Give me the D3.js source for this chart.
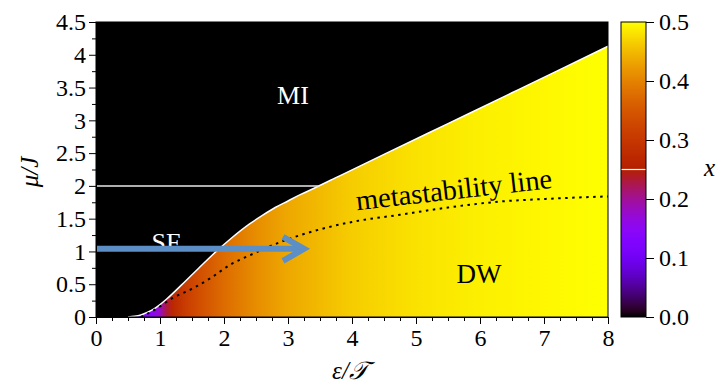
<!DOCTYPE html>
<html>
<head>
<meta charset="utf-8">
<script src="https://cdn.jsdelivr.net/npm/d3@7"></script>
<style>
  body { margin: 0; background: #fff; }
</style>
</head>
<body>
<div id="chart"></div>
<script>
// phase boundary between MI and DW (eps/T, mu/J)
const boundaryEps = [0.5, 0.6, 0.7, 0.8, 0.9, 1.0, 1.1, 1.2, 1.4, 1.6, 1.9, 2.1, 2.4, 2.6, 2.8, 3.0, 3.2, 3.4, 3.8, 4.5, 5.5, 6.5, 7.2, 8.0];
const boundaryMu  = [0.0, 0.01, 0.03, 0.07, 0.12, 0.19, 0.27, 0.36, 0.55, 0.74, 1.02, 1.19, 1.42, 1.55, 1.67, 1.77, 1.87, 1.96, 2.15, 2.48, 2.95, 3.42, 3.75, 4.13];

// metastability line
const metaEps = [0.7, 0.9, 1.2, 1.5, 1.8, 2.1, 2.4, 2.9, 3.4, 4.0, 4.75, 5.5, 6.3, 7.0, 8.0];
const metaMu  = [0.0, 0.1, 0.29, 0.43, 0.6, 0.8, 0.94, 1.15, 1.31, 1.45, 1.56, 1.67, 1.76, 1.80, 1.84];

// order parameter x along eps in the DW region
const gradEps = [0.5, 0.7, 0.9, 1.0, 1.1, 1.2, 1.4, 1.6, 2.0, 2.5, 3.0, 3.5, 4.0, 5.0, 6.0, 7.0, 8.0];
const gradX   = [0.05, 0.12, 0.15, 0.18, 0.23, 0.27, 0.31, 0.335, 0.375, 0.41, 0.435, 0.45, 0.465, 0.48, 0.49, 0.495, 0.5];

const xTicks = [0, 1, 2, 3, 4, 5, 6, 7, 8];
const yTicks = [0, 0.5, 1, 1.5, 2, 2.5, 3, 3.5, 4, 4.5];
const cTicks = [0, 0.1, 0.2, 0.3, 0.4, 0.5];
const mottLineMu = 2;
const arrowFrom = [0, 1.04];
const arrowTo = [3.25, 1.04];

const W = 716, H = 387;
const L = 96, R = 608, T = 22, B = 317;
const FONT = "'Liberation Serif', 'Times New Roman', 'DejaVu Serif', serif";

const svg = d3.select("#chart").append("svg")
  .attr("width", W).attr("height", H)
  .attr("font-family", FONT);

const x = d3.scaleLinear().domain([0, 8]).range([L, R]);
const y = d3.scaleLinear().domain([0, 4.5]).range([B, T]);

// gnuplot-like default palette
function palette(t) {
  const r = Math.sqrt(t), g = t * t * t, b = Math.max(0, Math.sin(2 * Math.PI * t));
  return d3.rgb(255 * r, 255 * g, 255 * b).toString();
}
const color = d3.scaleSequential(palette).domain([0, 0.5]);

const defs = svg.append("defs");
const grad = defs.append("linearGradient").attr("id", "dwgrad")
  .attr("gradientUnits", "userSpaceOnUse")
  .attr("x1", x(0)).attr("x2", x(8)).attr("y1", 0).attr("y2", 0);
grad.selectAll("stop").data(gradEps).join("stop")
  .attr("offset", d => d / 8)
  .attr("stop-color", (d, i) => color(gradX[i]));

// background (MI + SF) black
svg.append("rect").attr("x", L).attr("y", T).attr("width", R - L).attr("height", B - T).attr("fill", "#000");

const bPts = boundaryEps.map((e, i) => [e, boundaryMu[i]]);
const area = d3.area().x(d => x(d[0])).y0(y(0)).y1(d => y(d[1])).curve(d3.curveMonotoneX);
svg.append("path").datum(bPts).attr("d", area).attr("fill", "url(#dwgrad)");

const line = d3.line().x(d => x(d[0])).y(d => y(d[1])).curve(d3.curveMonotoneX);
svg.append("path").datum(bPts).attr("d", line)
  .attr("fill", "none").attr("stroke", "#fff").attr("stroke-width", 1.5);

// horizontal line at mu = 2
const crossEps = d3.scaleLinear().domain(boundaryMu).range(boundaryEps)(mottLineMu);
svg.append("line").attr("x1", x(0)).attr("x2", x(crossEps))
  .attr("y1", y(mottLineMu)).attr("y2", y(mottLineMu))
  .attr("stroke", "#e8e8e8").attr("stroke-width", 1.5);

// metastability line
svg.append("path").datum(metaEps.map((e, i) => [e, metaMu[i]])).attr("d", line)
  .attr("fill", "none").attr("stroke", "#000").attr("stroke-width", 2)
  .attr("stroke-dasharray", "2.5,4.5");

// labels in plot
svg.append("text").attr("x", 293).attr("y", 104).attr("text-anchor", "middle")
  .attr("fill", "#fff").style("font-size", "26px").text("MI");
svg.append("text").attr("x", 166).attr("y", 251).attr("text-anchor", "middle")
  .attr("fill", "#fff").style("font-size", "26px").text("SF");
svg.append("text").attr("x", 479).attr("y", 283).attr("text-anchor", "middle")
  .attr("fill", "#000").style("font-size", "27px").text("DW");
svg.append("text").attr("transform", "translate(455,199) rotate(-6.5)")
  .attr("text-anchor", "middle").attr("fill", "#000").style("font-size", "28.5px")
  .text("metastability line");

// arrow
const ay = y(arrowFrom[1]), tipX = x(arrowTo[0]);
const arrowColor = "#5b8fc6";
svg.append("line").attr("x1", x(arrowFrom[0])).attr("x2", tipX - 3)
  .attr("y1", ay).attr("y2", ay)
  .attr("stroke", arrowColor).attr("stroke-width", 6);
svg.append("path")
  .attr("d", `M${tipX - 21},${ay - 12}L${tipX},${ay}L${tipX - 21},${ay + 12}`)
  .attr("fill", "none").attr("stroke", arrowColor).attr("stroke-width", 6)
  .attr("stroke-linejoin", "miter");

// frame
svg.append("rect").attr("x", L).attr("y", T).attr("width", R - L).attr("height", B - T)
  .attr("fill", "none").attr("stroke", "#000").attr("stroke-width", 1);

// axes
svg.append("g").attr("transform", `translate(0,${B})`)
  .call(d3.axisBottom(x).tickValues(xTicks).tickFormat(d3.format("d")).tickSize(7).tickPadding(5));
svg.append("g").attr("transform", `translate(0,${B})`)
  .call(d3.axisBottom(x).tickValues(d3.range(0, 8.01, 0.25).filter(d => d % 1 !== 0)).tickFormat("").tickSize(4))
  .select(".domain").remove();
svg.append("g").attr("transform", `translate(${L},0)`)
  .call(d3.axisLeft(y).tickValues(yTicks).tickFormat(d => d3.format("")(d)).tickSize(7).tickPadding(3));
svg.append("g").attr("transform", `translate(${L},0)`)
  .call(d3.axisLeft(y).tickValues(d3.range(0.25, 4.5, 0.5)).tickFormat("").tickSize(4))
  .select(".domain").remove();

// axis titles
svg.append("text").attr("x", 350).attr("y", 379).attr("text-anchor", "middle")
  .style("font-size", "25px").style("font-style", "italic").text("ε/𝒯");
svg.append("text").attr("transform", "translate(38,172) rotate(-90)")
  .attr("text-anchor", "middle").style("font-size", "25px").style("font-style", "italic")
  .text("μ/J");

// colorbar
const cL = 621, cR = 646;
const cy = d3.scaleLinear().domain([0, 0.5]).range([B, T]);
const cgrad = defs.append("linearGradient").attr("id", "cbgrad")
  .attr("x1", 0).attr("x2", 0).attr("y1", 1).attr("y2", 0);
cgrad.selectAll("stop").data(d3.range(0, 1.0001, 0.02)).join("stop")
  .attr("offset", d => d)
  .attr("stop-color", d => color(d * 0.5));
svg.append("rect").attr("x", cL).attr("y", T).attr("width", cR - cL).attr("height", B - T)
  .attr("fill", "url(#cbgrad)");
svg.append("line").attr("x1", cL).attr("x2", cR).attr("y1", cy(0.25)).attr("y2", cy(0.25))
  .attr("stroke", "#fff").attr("stroke-width", 1.2);
svg.append("rect").attr("x", cL).attr("y", T).attr("width", cR - cL).attr("height", B - T)
  .attr("fill", "none").attr("stroke", "#000").attr("stroke-width", 1);
const cAxis = svg.append("g").attr("transform", `translate(${cR},0)`)
  .call(d3.axisRight(cy).tickValues(cTicks).tickFormat(d3.format(".1f")).tickSize(8).tickPadding(5));
cAxis.select(".domain").remove();
svg.append("text").attr("x", 704).attr("y", 176).style("font-size", "25px")
  .style("font-style", "italic").text("x");

// common axis styling (serif, larger tick labels)
svg.selectAll("g").attr("font-family", null).attr("font-size", null);
svg.selectAll(".tick text").attr("fill", "#000")
  .style("font-family", FONT).style("font-size", "24px");
svg.selectAll(".tick line, .domain").attr("stroke", "#000");
</script>
</body>
</html>
